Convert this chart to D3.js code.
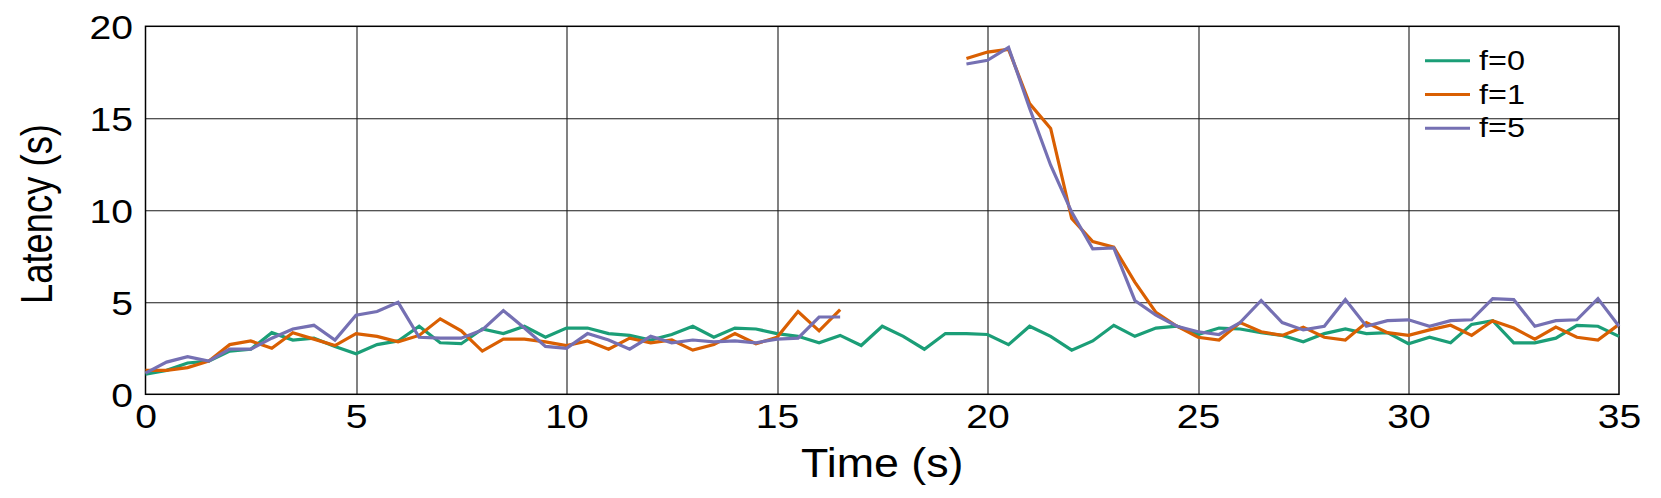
<!DOCTYPE html>
<html>
<head>
<meta charset="utf-8">
<script src="https://cdn.jsdelivr.net/npm/d3@7"></script>
<style>
  html, body { margin: 0; padding: 0; background: #fff; }
  svg { display: block; }
  text { font-family: "Liberation Sans", Arial, sans-serif; fill: #000; }
</style>
</head>
<body>
<svg id="chart" width="1661" height="498"></svg>
<script>
// ---- data ----
const time = [0,0.5,1,1.5,2,2.5,3,3.5,4,4.5,5,5.5,6,6.5,7,7.5,8,8.5,9,9.5,10,10.5,11,11.5,12,12.5,13,13.5,14,14.5,15,15.5,16,16.5,17,17.5,18,18.5,19,19.5,20,20.5,21,21.5,22,22.5,23,23.5,24,24.5,25,25.5,26,26.5,27,27.5,28,28.5,29,29.5,30,30.5,31,31.5,32,32.5,33,33.5,34,34.5,35];

const f0 = [1.1,1.3,1.7,1.8,2.35,2.45,3.35,2.95,3.05,2.6,2.2,2.7,2.9,3.7,2.8,2.75,3.55,3.3,3.7,3.1,3.6,3.6,3.3,3.2,2.95,3.25,3.7,3.1,3.6,3.55,3.3,3.15,2.8,3.2,2.65,3.7,3.15,2.45,3.3,3.3,3.25,2.7,3.7,3.15,2.4,2.9,3.75,3.15,3.6,3.7,3.25,3.6,3.55,3.35,3.2,2.85,3.3,3.55,3.3,3.35,2.75,3.1,2.8,3.8,4.0,2.8,2.8,3.05,3.75,3.7,3.15];

const f1 = [1.3,1.3,1.45,1.8,2.7,2.9,2.5,3.35,3.0,2.65,3.3,3.15,2.85,3.2,4.1,3.45,2.35,3.0,3.0,2.85,2.65,2.9,2.45,3.05,2.8,2.95,2.4,2.7,3.3,2.75,3.1,4.5,3.45,4.6,null,null,null,null,null,18.25,18.6,18.75,15.8,14.45,9.55,8.3,8.0,6.1,4.45,3.7,3.1,2.95,3.9,3.4,3.2,3.65,3.1,2.95,3.9,3.35,3.2,3.5,3.75,3.2,4.0,3.6,3.0,3.65,3.1,2.95,3.8];

const f5 = [1.15,1.75,2.05,1.8,2.45,2.45,3.05,3.55,3.75,2.95,4.3,4.5,5.0,3.1,3.05,3.05,3.5,4.55,3.6,2.6,2.5,3.3,2.95,2.45,3.15,2.8,2.95,2.85,2.9,2.8,3.0,3.05,4.2,4.2,null,null,null,null,null,17.95,18.15,18.85,15.55,12.45,9.9,7.9,7.95,5.1,4.3,3.7,3.4,3.25,3.9,5.1,3.9,3.5,3.7,5.15,3.7,4.0,4.05,3.7,4.0,4.05,5.2,5.15,3.7,4.0,4.05,5.2,3.7];

const seriesNames = ["f=0", "f=1", "f=5"];
const seriesColors = ["#1b9e77", "#d95f02", "#7570b3"];
const xTicks = [0,5,10,15,20,25,30,35];
const yTicks = [0,5,10,15,20];

// ---- layout ----
const W = 1661, H = 498;
const m = { left: 145.5, right: 42, top: 26.3, bottom: 103.7 };
const iw = W - m.left - m.right, ih = H - m.top - m.bottom;

const svg = d3.select("#chart");
const g = svg.append("g").attr("transform", `translate(${m.left},${m.top})`);

const x = d3.scaleLinear().domain([0, 35]).range([0, iw]);
const y = d3.scaleLinear().domain([0, 20]).range([ih, 0]);

// grid
g.append("g").selectAll("line").data(xTicks.slice(1, -1)).join("line")
  .attr("x1", d => Math.round(x(d)) + 0.5).attr("x2", d => Math.round(x(d)) + 0.5)
  .attr("y1", 0).attr("y2", ih).attr("stroke", "#1a1a1a").attr("stroke-width", 1.1);
g.append("g").selectAll("line").data(yTicks.slice(1, -1)).join("line")
  .attr("y1", d => Math.round(y(d)) + 0.5).attr("y2", d => Math.round(y(d)) + 0.5)
  .attr("x1", 0).attr("x2", iw).attr("stroke", "#1a1a1a").attr("stroke-width", 1.1);

// axes
const tickFont = 34, tickSX = 1.15;
const xAxis = g.append("g").attr("transform", `translate(0,${ih})`)
  .call(d3.axisBottom(x).tickValues(xTicks).tickSize(0).tickFormat(d3.format("d")));
xAxis.select(".domain").remove();
xAxis.selectAll("text")
  .attr("y", 0).attr("dy", 0)
  .attr("transform", `translate(0,33.7) scale(${tickSX},1)`)
  .style("font-size", tickFont + "px").style("font-family", "Liberation Sans, Arial, sans-serif");

const yAxis = g.append("g")
  .call(d3.axisLeft(y).tickValues(yTicks).tickSize(0).tickFormat(d3.format("d")));
yAxis.select(".domain").remove();
yAxis.selectAll("text")
  .attr("x", 0).attr("dy", "0.36em")
  .attr("transform", `translate(-12.5,0) scale(${tickSX},1)`)
  .style("font-size", tickFont + "px").style("font-family", "Liberation Sans, Arial, sans-serif");

// frame
g.append("rect").attr("x", 0).attr("y", 0).attr("width", iw).attr("height", ih)
  .attr("fill", "none").attr("stroke", "#000").attr("stroke-width", 1.5);

// lines
const series = [f0, f1, f5];
const line = d3.line()
  .defined(d => d.v !== null)
  .x(d => x(d.t)).y(d => y(d.v));
series.forEach((s, i) => {
  const pts = time.map((t, k) => ({ t: t, v: s[k] }));
  g.append("path").datum(pts)
    .attr("d", line)
    .attr("fill", "none")
    .attr("stroke", seriesColors[i])
    .attr("stroke-width", 3.2)
    .attr("stroke-linejoin", "miter");
});

// legend
const lg = svg.append("g");
seriesNames.forEach((name, i) => {
  const yy = 60.7 + i * 33.8;
  lg.append("line").attr("x1", 1425).attr("x2", 1470).attr("y1", yy).attr("y2", yy)
    .attr("stroke", seriesColors[i]).attr("stroke-width", 3);
  lg.append("text").text(name)
    .attr("transform", `translate(1479,${yy + 9}) scale(1.2,1)`)
    .style("font-size", "27px");
});

// axis titles
svg.append("text").text("Time (s)")
  .attr("text-anchor", "middle")
  .attr("transform", `translate(${m.left + iw / 2},476.7) scale(1.12,1)`)
  .style("font-size", "40px");

svg.append("text").text("Latency (s)")
  .attr("text-anchor", "middle")
  .attr("transform", `translate(51.5,214) rotate(-90) scale(0.91,1.1)`)
  .style("font-size", "40px");
</script>
</body>
</html>
